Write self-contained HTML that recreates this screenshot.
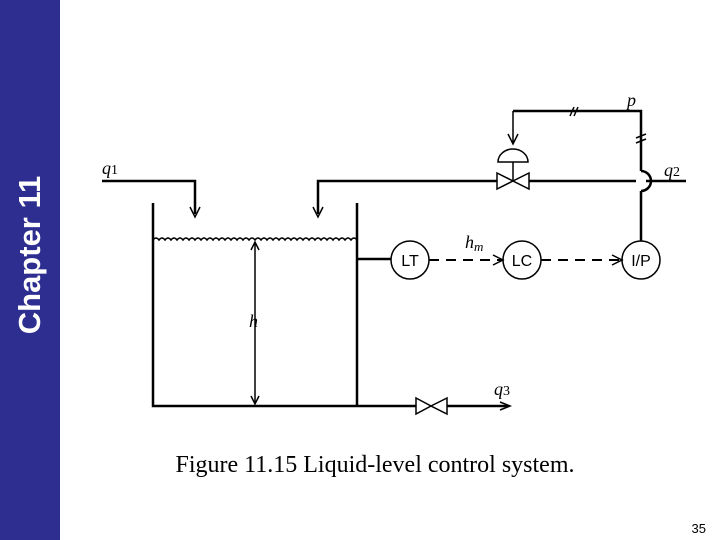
<!DOCTYPE html>
<html><head><meta charset="utf-8"><style>
body{margin:0;width:720px;height:540px;background:#fff;overflow:hidden;position:relative;font-family:"Liberation Sans",sans-serif}
#side{position:absolute;left:0;top:0;width:60px;height:540px;background:#2e2e90}
#ch{position:absolute;left:30px;top:255px;transform:translate(-50%,-50%) rotate(-90deg);color:#fff;font-weight:bold;font-size:31px;white-space:nowrap}
svg{position:absolute;left:0;top:0}
</style></head><body>
<div id="side"></div><div id="ch">Chapter 11</div>
<svg width="720" height="540" viewBox="0 0 720 540">
<g stroke="#000" stroke-width="2.5" fill="none">
<path d="M153 203V406H416M447 406H508"/>
<path d="M357 203V406"/>
<path d="M102 181H195V214"/>
<path d="M318 214V181H497M529 181H636M646 181H686"/>
<path d="M357 259H391"/>
<path d="M513 111H641V171M641 191V241"/>
<path d="M641 171A10 10 0 0 1 641 191"/>
</g>
<g stroke="#000" stroke-width="1.5" fill="none">
<path d="M153 240 q3 -4 6 0 q3 -4 6 0 q3 -4 6 0 q3 -4 6 0 q3 -4 6 0 q3 -4 6 0 q3 -4 6 0 q3 -4 6 0 q3 -4 6 0 q3 -4 6 0 q3 -4 6 0 q3 -4 6 0 q3 -4 6 0 q3 -4 6 0 q3 -4 6 0 q3 -4 6 0 q3 -4 6 0 q3 -4 6 0 q3 -4 6 0 q3 -4 6 0 q3 -4 6 0 q3 -4 6 0 q3 -4 6 0 q3 -4 6 0 q3 -4 6 0 q3 -4 6 0 q3 -4 6 0 q3 -4 6 0 q3 -4 6 0 q3 -4 6 0 q3 -4 6 0 q3 -4 6 0 q3 -4 6 0 q3 -4 6 0"/>
<path d="M255 242V404M251 250L255 242L259 250M251 396L255 404L259 396"/>
<path d="M190 207L195 217L200 207M313 207L318 217L323 207"/>
<path d="M416 398L431 406L416 414ZM447 398L431 406L447 414Z"/>
<path d="M497 173L513 181L497 189ZM529 173L513 181L529 189Z"/>
<path d="M513 181V162M498 162H528A15 13 0 0 0 498 162Z"/>
<path d="M513 111V144M508 134L513 144L518 134"/>
<path d="M500 402L510 406L500 410"/>
<path d="M570 116L574 107M574 116L578 107M636 138L646 134M636 143L646 139"/>
<path d="M429 260H502M541 260H622" stroke-dasharray="10 7" stroke-width="2"/>
<path d="M493 255L503 260L493 265M612 255L622 260L612 265"/>
<circle cx="410" cy="260" r="19"/><circle cx="522" cy="260" r="19"/><circle cx="641" cy="260" r="19"/>
</g>
<g font-size="16" text-anchor="middle" font-family="Liberation Sans">
<text x="410" y="266">LT</text><text x="522" y="266">LC</text><text x="641" y="266">I/P</text>
</g>
<g font-family="Liberation Serif" font-style="italic" font-size="18">
<text x="102" y="174">q<tspan font-style="normal" font-size="14">1</tspan></text>
<text x="664" y="176">q<tspan font-style="normal" font-size="14">2</tspan></text>
<text x="494" y="395">q<tspan font-style="normal" font-size="14">3</tspan></text>
<text x="627" y="106">p</text>
<text x="465" y="248">h<tspan font-size="13" dy="3">m</tspan></text>
<text x="249" y="327">h</text>
</g>
<text x="375" y="472" text-anchor="middle" font-family="Liberation Serif" font-size="24" textLength="399">Figure 11.15 Liquid-level control system.</text>
<text x="706" y="533" text-anchor="end" font-family="Liberation Sans" font-size="13">35</text>
</svg>
</body></html>
